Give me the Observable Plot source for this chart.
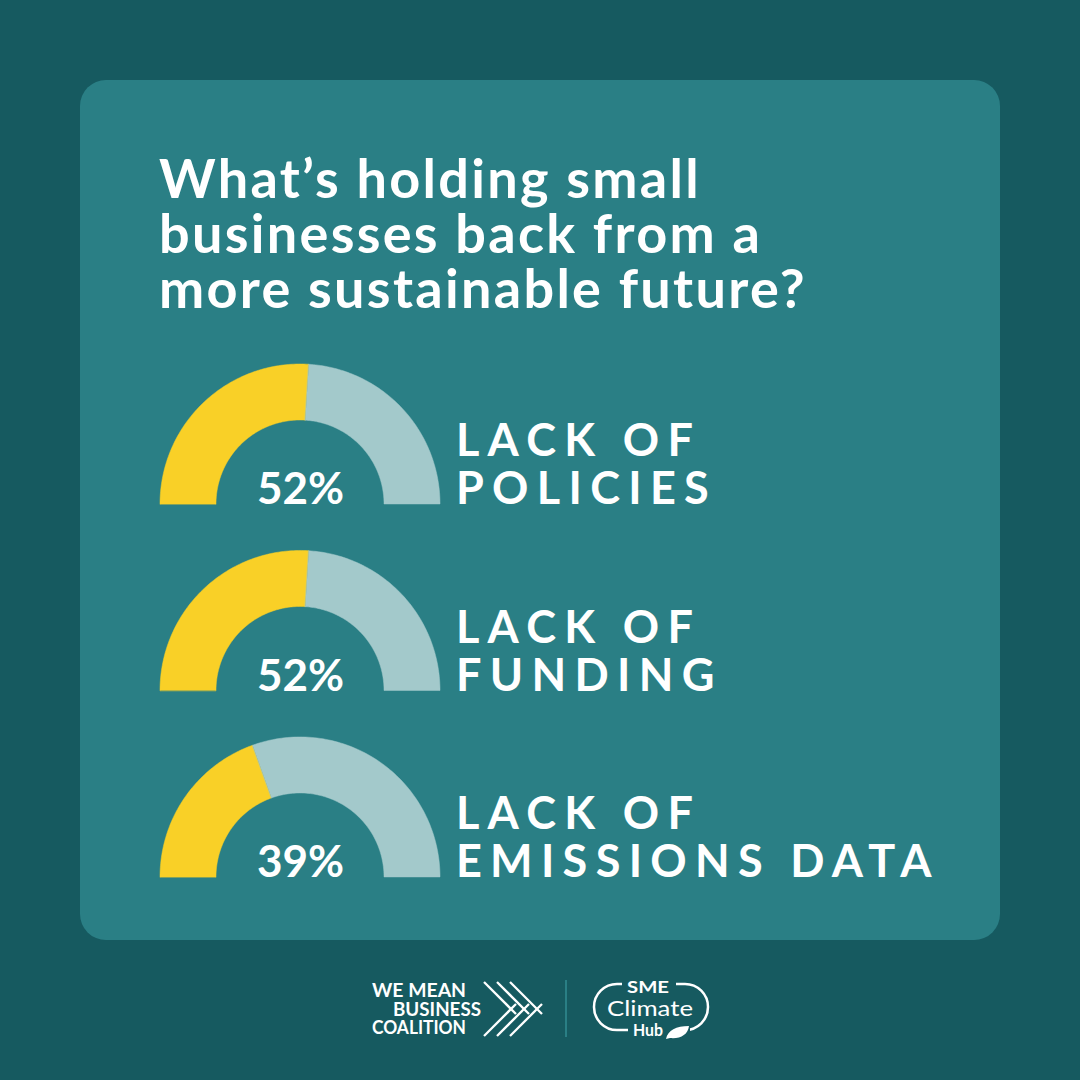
<!DOCTYPE html>
<html><head><meta charset="utf-8">
<script src="https://cdn.jsdelivr.net/npm/d3@7"></script>
<script src="https://cdn.jsdelivr.net/npm/@observablehq/plot@0.6"></script>
<style>
html,body{margin:0;padding:0;}
body{width:1080px;height:1080px;background:#165a60;position:relative;overflow:hidden;font-family:Lato,"Open Sans",sans-serif;}
#card{position:absolute;left:80px;top:80px;width:920px;height:860px;background:#2a7f85;border-radius:26px;}
#title{position:absolute;left:159px;top:150px;color:#fff;font-weight:700;font-size:54px;line-height:55px;letter-spacing:2.3px;margin:0;white-space:nowrap;}
#chart{position:absolute;left:140px;top:340px;}
#logos{position:absolute;left:0;top:960px;}
</style></head>
<body>
<div id="card"></div>
<h1 id="title">What’s holding small<br>businesses back from a<br>more sustainable future?</h1>
<div id="chart"></div>
<svg id="logos" width="1080" height="120" font-family="Lato, sans-serif">
  <g fill="#fff" font-weight="700" font-size="18">
    <text x="372" y="37" textLength="94" lengthAdjust="spacingAndGlyphs">WE MEAN</text>
    <text x="393" y="56" textLength="88" lengthAdjust="spacingAndGlyphs">BUSINESS</text>
    <text x="372" y="74" textLength="94" lengthAdjust="spacingAndGlyphs">COALITION</text>
  </g>
  <g fill="none" stroke="#fff" stroke-width="2.3">
    <line x1="484" y1="22" x2="516" y2="54"/>
    <line x1="497" y1="22" x2="529" y2="54"/>
    <line x1="510" y1="22" x2="542" y2="54"/>
    <line x1="484" y1="76" x2="516" y2="44"/>
    <line x1="497" y1="76" x2="529" y2="44"/>
    <line x1="510" y1="76" x2="542" y2="44"/>
  </g>
  <line x1="566" y1="20" x2="566" y2="77" stroke="#2a7f85" stroke-width="2"/>
  <rect x="594" y="24" width="114" height="46" rx="23" fill="none" stroke="#fff" stroke-width="2.5"/>
  <rect x="622" y="18" width="54" height="12" fill="#165a60"/>
  <rect x="628" y="64" width="62" height="12" fill="#165a60"/>
  <g fill="#fff" text-anchor="middle">
    <text x="648" y="33" font-weight="700" font-size="17" textLength="42" lengthAdjust="spacingAndGlyphs">SME</text>
    <text x="650" y="56" font-weight="400" font-size="21" textLength="86" lengthAdjust="spacingAndGlyphs">Climate</text>
    <text x="648" y="76" font-weight="700" font-size="17" textLength="30" lengthAdjust="spacingAndGlyphs">Hub</text>
  </g>
  <path d="M666,79 C668,70 676,66 689,66 C688,75 680,79 670,78 Z" fill="#fff"/>
</svg>
<script>
// Data
const categories = ["Lack of policies", "Lack of funding", "Lack of emissions data"];
const labelLine1 = ["LACK OF", "LACK OF", "LACK OF"];
const labelLine2 = ["POLICIES", "FUNDING", "EMISSIONS DATA"];
const shares = [52, 52, 39];

// Gauge geometry (units: outer radius = 1)
const rowGap = 1.332, rOuter = 1, rInner = 0.6;
const yellow = "#f9d027", pale = "#a3c9cb";

const arcs = [];
shares.forEach((s, i) => {
  [[0, s / 100, "share"], [s / 100, 1, "rest"]].forEach(([a0, a1, key]) => {
    const n = 90;
    for (let j = 0; j <= n; j++) {
      const t = a0 + (a1 - a0) * j / n;
      const th = Math.PI * (1 - t);
      arcs.push({
        id: categories[i] + key, key,
        x1: rOuter * Math.cos(th), y1: -i * rowGap + rOuter * Math.sin(th),
        x2: rInner * Math.cos(th), y2: -i * rowGap + rInner * Math.sin(th)
      });
    }
  });
});

const chart = Plot.plot({
  width: 800, height: 560,
  margin: 0,
  x: {domain: [-1.1429, 4.5714], axis: null},
  y: {domain: [-2.8286, 1.1714], axis: null},
  color: {domain: ["share", "rest"], range: [yellow, pale]},
  style: {background: "transparent", fontFamily: "Lato, sans-serif", overflow: "visible"},
  marks: [
    Plot.area(arcs, {x1: "x1", y1: "y1", x2: "x2", y2: "y2", z: "id", fill: "key", stroke: "key", strokeWidth: 0.5}),
    Plot.text(shares, {x: 0, y: (d, i) => -i * rowGap, text: d => d + "%", fontSize: 44, fontWeight: 700, fill: "white", textAnchor: "middle", lineAnchor: "bottom"}),
    Plot.text(labelLine1, {x: 1.11, y: (d, i) => -i * rowGap + 0.343, text: d => d, fontSize: 45, fontWeight: 700, fill: "white", textAnchor: "start", lineAnchor: "bottom"}),
    Plot.text(labelLine2, {x: 1.11, y: (d, i) => -i * rowGap, text: d => d, fontSize: 45, fontWeight: 700, fill: "white", textAnchor: "start", lineAnchor: "bottom"})
  ]
});
const groups = chart.querySelectorAll('g[aria-label="text"]');
[groups[1], groups[2]].forEach(g => g.style.letterSpacing = "0.185em");
document.getElementById("chart").appendChild(chart);
</script>
</body></html>
